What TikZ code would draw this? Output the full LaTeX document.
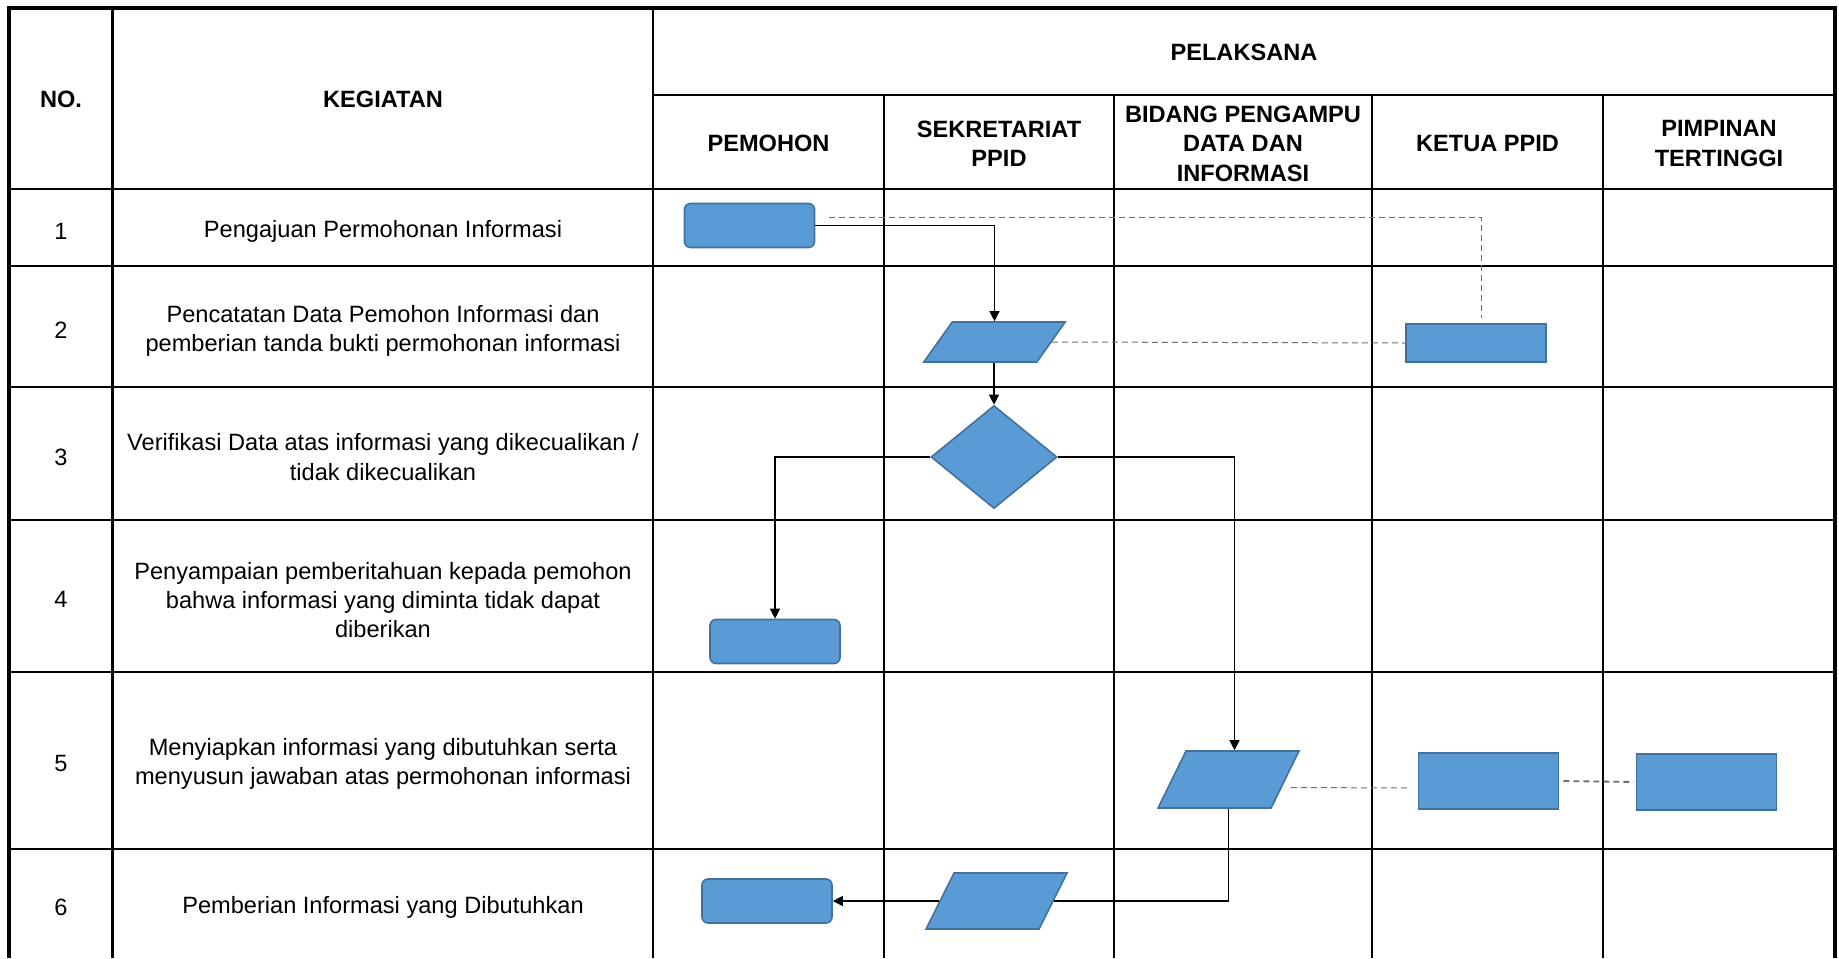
\documentclass[tikz,border=0pt]{standalone}
\usepackage{fontspec}
\setmainfont{Liberation Sans}
\usetikzlibrary{arrows.meta, shapes.geometric, calc}
\definecolor{isibiru}{HTML}{5B9BD5}
\definecolor{tepibiru}{HTML}{41719C}
\definecolor{abu}{HTML}{6E6E6E}

\begin{document}
\begin{tikzpicture}[x=0.5pt, y=-0.5pt,
        tepi/.style={line width=2pt},
        garis/.style={line width=1.2pt},
        teks/.style={font=\fontsize{11.8}{14.7}\selectfont, align=center, inner sep=0pt},
        judul/.style={teks, font=\fontsize{11.8}{14.7}\selectfont\bfseries},
        proses/.style={rectangle, rounded corners=3pt, draw=tepibiru, fill=isibiru, line width=0.8pt, minimum width=65pt, minimum height=22pt, inner sep=0pt},
        kotak/.style={rectangle, draw=tepibiru, fill=isibiru, line width=0.8pt, minimum width=70pt, inner sep=0pt},
        datain/.style={rectangle, transform shape, draw=tepibiru, fill=isibiru, line width=0.8pt, minimum width=56.5pt, inner sep=0pt},
        keputusan/.style={diamond, draw=tepibiru, fill=isibiru, line width=0.8pt, minimum width=63pt, minimum height=51.5pt, inner sep=0pt},
        alur/.style={line width=0.6pt, -{Triangle[length=5pt,width=5pt]}},
        putus/.style={draw=abu, line width=0.5pt, dash pattern=on 3pt off 2pt}]
        \useasboundingbox (0,0) rectangle (1839,958);

        % tabel
        \draw[tepi] (9,958) -- (9,8) -- (1835,8) -- (1835,958);
        \foreach \x in {112.6,653} \draw[garis] (\x,8) -- (\x,958);
        \foreach \x in {884,1114,1372,1603} \draw[garis] (\x,95) -- (\x,958);
        \draw[garis] (653,95) -- (1835,95);
        \foreach \y in {189,266,387,520,672,849} \draw[garis] (9,\y) -- (1835,\y);

        % kepala tabel
        \node[judul] (no-h) at (61,99.5) {NO.};
        \node[judul] (keg-h) at (383,99.5) {KEGIATAN};
        \node[judul] (pel-h) at (1244,52) {PELAKSANA};
        \node[judul] (pem-h) at (768.5,143.5) {PEMOHON};
        \node[judul] (sek-h) at (999,143.5) {SEKRETARIAT\\PPID};
        \node[judul] (bid-h) at (1243,143.5) {BIDANG PENGAMPU\\DATA DAN\\INFORMASI};
        \node[judul] (ket-h) at (1487.5,143.5) {KETUA PPID};
        \node[judul] (pim-h) at (1719,143.5) {PIMPINAN\\TERTINGGI};

        % nomor dan kegiatan
        \node[teks] (n1) at (61,231) {1};
        \node[teks] (n2) at (61,330) {2};
        \node[teks] (n3) at (61,457) {3};
        \node[teks] (n4) at (61,599) {4};
        \node[teks] (n5) at (61,763) {5};
        \node[teks] (n6) at (61,907) {6};
        \node[teks] (k1) at (383,231) {Pengajuan Permohonan Informasi};
        \node[teks] (k2) at (383,331) {Pencatatan Data Pemohon Informasi dan\\pemberian tanda bukti permohonan informasi};
        \node[teks] (k3) at (383,457) {Verifikasi Data atas informasi yang dikecualikan /\\tidak dikecualikan};
        \node[teks] (k4) at (383,600) {Penyampaian pemberitahuan kepada pemohon\\bahwa informasi yang diminta tidak dapat\\diberikan};
        \node[teks] (k5) at (383,764) {Menyiapkan informasi yang dibutuhkan serta\\menyusun jawaban atas permohonan informasi};
        \node[teks] (k6) at (383,907) {Pemberian Informasi yang Dibutuhkan};

        % bagan alir
        \node[proses] (r1) at (749.5,225.5) {};
        \node[datain, minimum height=20pt, xslant=0.71] (p2) at (994.5,342) {};
        \node[kotak, minimum height=19pt] (q2) at (1476,343) {};
        \node[keputusan] (d3) at (994,457) {};
        \node[proses] (r4) at (775,641.5) {};
        \node[datain, minimum height=28.5pt, xslant=0.49] (p5) at (1228.5,779.5) {};
        \node[kotak, minimum height=28pt] (q5) at (1488.5,781) {};
        \node[kotak, minimum height=28pt] (t5) at (1706.5,782) {};
        \node[datain, minimum height=28pt, xslant=0.5] (p6) at (996.5,901) {};
        \node[proses] (r6) at (767,901) {};

        \draw[alur] (r1.east) -| (p2.center |- p2.north);
        \draw[alur] (p2.south -| d3.north) -- (d3.north);
        \draw[alur] (d3.west) -| (r4.north);
        \draw[alur] (d3.east) -| ($(p5.center |- p5.north)+(6,0)$);
        \draw[line width=0.6pt] (p5.center |- p5.south) |- (p6.east);
        \draw[alur] (p6.west) -- (r6.east);

        \draw[putus] ($(r1.east)+(14,-8.5)$) -| ($(q2.north)+(5,-5)$);
        \draw[putus] (p2.east) -- (q2.west);
        \draw[putus] ($(p5.east)+(5,8)$) -- ($(q5.west)+(-8,7)$);
        \draw[putus, line width=0.9pt, shorten <=2pt, shorten >=1pt] (q5.east) -- (t5.west);
\end{tikzpicture}
\end{document}
